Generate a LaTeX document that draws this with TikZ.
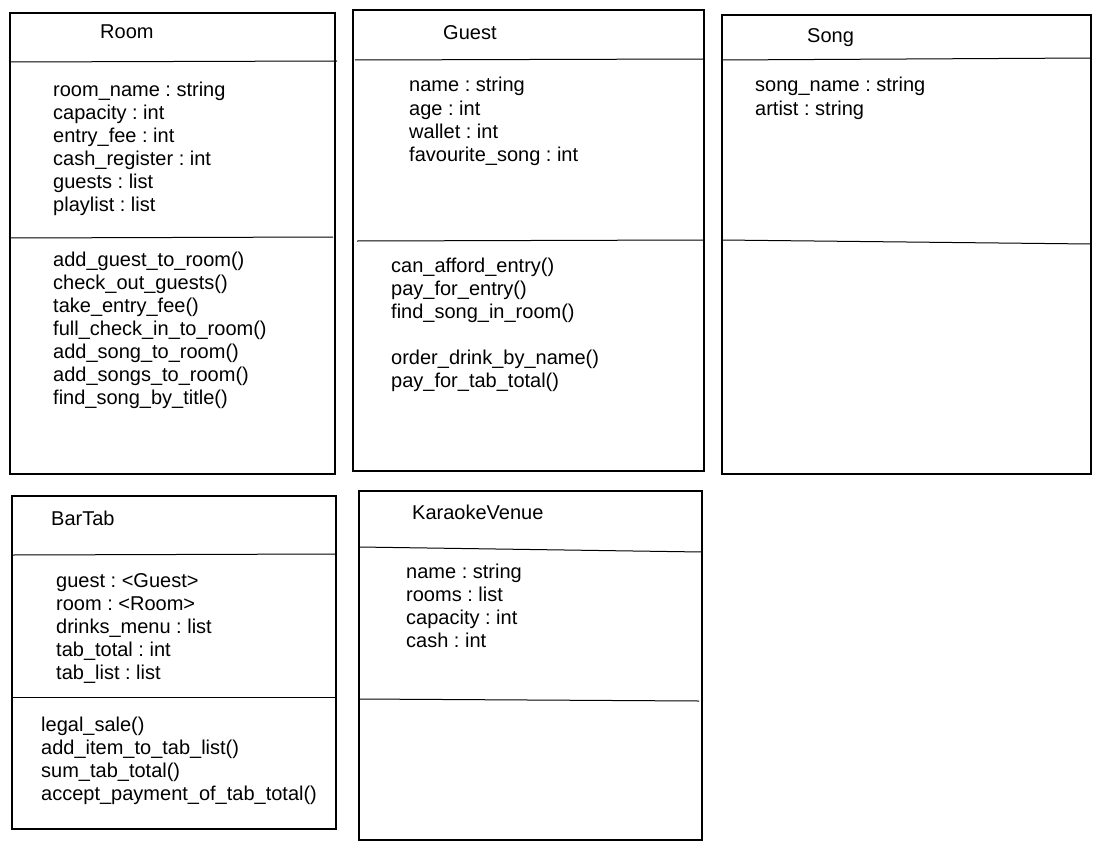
\documentclass[tikz,border=0pt]{standalone}
\usepackage{fontspec}
\setmainfont{Liberation Sans}
\frenchspacing
\begin{document}
\begin{tikzpicture}[x=1pt,y=-1pt,
  boxline/.style={draw=black, line width=1.1pt},
  sepline/.style={draw=black, line width=1pt},
  txt/.style={anchor=base west, inner sep=0pt, font=\fontsize{20}{23}\selectfont\frenchspacing}]
\useasboundingbox[fill=white] (0,0) rectangle (1102,851);
% Room
\draw[boxline] (10,13) rectangle (335,474);
\draw[sepline] (10,62) -- (337,61);
\draw[sepline] (10,238) -- (333,237);
\node[txt] (roomT) at (100,38) {Room};
\foreach \t [count=\i] in {room\_name : string, capacity : int, entry\_fee : int, cash\_register : int, guests : list, playlist : list}
  \node[txt] (roomA\i) at (53,{96+23*(\i-1)}) {\t};
\foreach \t [count=\i] in {add\_guest\_to\_room(), check\_out\_guests(), take\_entry\_fee(), full\_check\_in\_to\_room(), add\_song\_to\_room(), add\_songs\_to\_room(), find\_song\_by\_title()}
  \node[txt] (roomM\i) at (53,{266+23*(\i-1)}) {\t};
% Guest
\draw[boxline] (353,10) rectangle (704,471);
\draw[sepline] (355,60) -- (704,59);
\draw[sepline] (357,241) -- (703,240);
\node[txt] (guestT) at (443,40) {Guest};
\foreach \t [count=\i] in {name : string, age : int, wallet : int, favourite\_song : int}
  \node[txt] (guestA\i) at (409,{92+23*(\i-1)}) {\t};
\foreach \t [count=\i] in {can\_afford\_entry(), pay\_for\_entry(), find\_song\_in\_room()}
  \node[txt] (guestM\i) at (391,{272+23*(\i-1)}) {\t};
\foreach \t [count=\i] in {order\_drink\_by\_name(), pay\_for\_tab\_total()}
  \node[txt] (guestN\i) at (391,{364+23*(\i-1)}) {\t};
% Song
\draw[boxline] (722,15) rectangle (1091,474);
\draw[sepline] (722,60) -- (1091,58);
\draw[sepline] (722,240) -- (1091,244);
\node[txt] (songT) at (807,43) {Song};
\foreach \t [count=\i] in {song\_name : string, artist : string}
  \node[txt] (songA\i) at (755,{92+23*(\i-1)}) {\t};
% BarTab
\draw[boxline] (12,496) rectangle (336,829);
\draw[sepline] (12,555) -- (336,554);
\draw[sepline] (12,697) -- (336,697);
\node[txt] (barT) at (51,525) {BarTab};
\foreach \t [count=\i] in {guest : <Guest>, room : <Room>, drinks\_menu : list, tab\_total : int, tab\_list : list}
  \node[txt] (barA\i) at (56,{587+23*(\i-1)}) {\t};
\foreach \t [count=\i] in {legal\_sale(), add\_item\_to\_tab\_list(), sum\_tab\_total(), accept\_payment\_of\_tab\_total()}
  \node[txt] (barM\i) at (41,{731+23*(\i-1)}) {\t};
% KaraokeVenue
\draw[boxline] (359,491) rectangle (702,840);
\draw[sepline] (359,547) -- (702,552);
\draw[sepline] (359,699) -- (699,701);
\node[txt] (kvT) at (412,519) {KaraokeVenue};
\foreach \t [count=\i] in {name : string, rooms : list, capacity : int, cash : int}
  \node[txt] (kvA\i) at (406,{578+23*(\i-1)}) {\t};
\end{tikzpicture}
\end{document}
